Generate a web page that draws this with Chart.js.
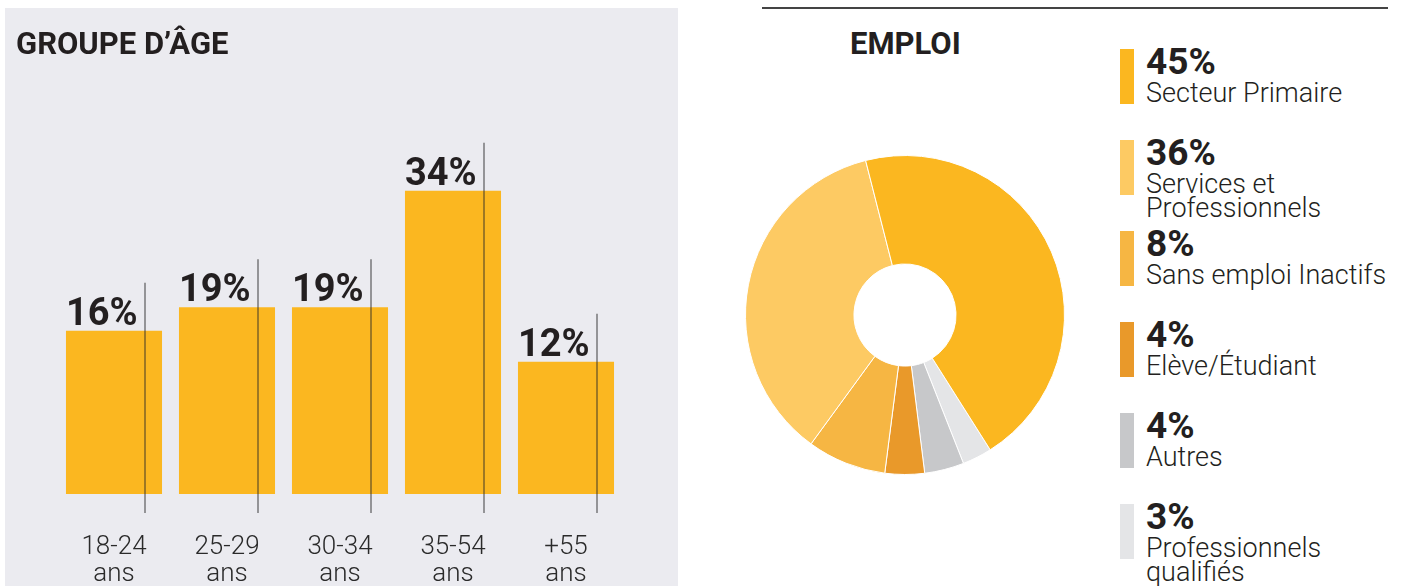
<!DOCTYPE html>
<html>
<head>
<meta charset="utf-8">
<script src="https://cdn.jsdelivr.net/npm/chart.js@4.4.1/dist/chart.umd.min.js"></script>
<style>
body { margin:0; background:#fff; width:1402px; height:586px; position:relative; overflow:hidden; font-family: Roboto, sans-serif; color:#231f20; }
.panel { position:absolute; left:5px; top:8px; width:673px; height:578px; background:#ebebf0; }
.title { position:absolute; font-weight:bold; font-size:31px; line-height:31px; }
.rule { position:absolute; left:762px; top:7px; width:626px; height:2px; background:#444; }
.box { position:absolute; }
.entry { position:absolute; left:1120px; }
.swatch { position:absolute; left:0; top:0; width:14px; height:55px; }
.pct { position:absolute; left:26px; top:-4px; font-weight:bold; font-size:37px; line-height:34px; white-space:nowrap; }
.lbl { position:absolute; left:26px; top:32px; font-weight:300; font-size:27px; line-height:24px; white-space:nowrap; }
</style>
</head>
<body>
<div class="panel">
  <div class="box" style="left:0;top:0;width:673px;height:621px;"><canvas id="age-chart"></canvas></div>
</div>
<div class="title" style="left:16px;top:28px;">GROUPE D’ÂGE</div>
<div class="rule"></div>
<div class="title" style="left:850px;top:28px;">EMPLOI</div>
<div class="box" style="left:740px;top:150px;width:330px;height:330px;"><canvas id="job-chart"></canvas></div>
<div id="legend"></div>
<script>
// age groups
const ageLabels = [['18-24', 'ans'], ['25-29', 'ans'], ['30-34', 'ans'], ['35-54', 'ans'], ['+55', 'ans']];
const ageValues = [16, 19, 19, 34, 12];
const axisMin = -5;
const axisMax = 40;

// employment (legend order)
const jobLabels = [['Secteur Primaire'], ['Services et', 'Professionnels'], ['Sans emploi Inactifs'], ['Elève/Étudiant'], ['Autres'], ['Professionnels', 'qualifiés']];
const jobValues = [45, 36, 8, 4, 4, 3];
const jobColors = ['#fbb720', '#fdca63', '#f6b643', '#e9992a', '#c7c8ca', '#e4e5e7'];

// thin marker line + value label for each bar
const barMarks = {
    id: 'barMarks',
    afterDatasetsDraw(chart) {
        const ctx = chart.ctx;
        const meta = chart.getDatasetMeta(0);
        const yBase = chart.scales.y.getPixelForValue(axisMin);
        ctx.save();
        meta.data.forEach((bar, i) => {
            ctx.strokeStyle = 'rgba(40,40,40,0.6)';
            ctx.lineWidth = 1.5;
            ctx.beginPath();
            ctx.moveTo(bar.x + 31, bar.y - 48);
            ctx.lineTo(bar.x + 31, yBase + 19);
            ctx.stroke();
            ctx.fillStyle = '#231f20';
            ctx.font = 'bold 38px Roboto';
            ctx.textAlign = 'left';
            ctx.textBaseline = 'alphabetic';
            ctx.fillText(ageValues[i] + '%', bar.x - bar.width / 2, bar.y - 6);
        });
        ctx.restore();
    }
};

const ageChart = new Chart(document.getElementById('age-chart').getContext('2d'), {
    type: 'bar',
    data: {
        labels: ageLabels,
        datasets: [{
            data: ageValues,
            base: axisMin,
            backgroundColor: '#fbb720',
            borderWidth: 0,
            barPercentage: 0.85,
            categoryPercentage: 1
        }]
    },
    options: {
        responsive: true,
        maintainAspectRatio: false,
        animation: false,
        layout: { padding: { left: 52.5, right: 55.5, top: 136, bottom: 1 } },
        plugins: { legend: { display: false }, tooltip: { enabled: false } },
        scales: {
            x: {
                grid: { display: false, drawTicks: false },
                border: { display: false },
                ticks: {
                    padding: 40,
                    color: '#2a2a2a',
                    font: { family: 'Roboto', size: 26, weight: 300, lineHeight: 27 / 26 }
                }
            },
            y: { display: false, min: axisMin, max: axisMax }
        }
    },
    plugins: [barMarks]
});

// doughnut is drawn clockwise from the 3% slice, i.e. legend order reversed
const jobChart = new Chart(document.getElementById('job-chart').getContext('2d'), {
    type: 'doughnut',
    data: {
        labels: jobLabels.slice().reverse().map(l => l.join(' ')),
        datasets: [{
            data: jobValues.slice().reverse(),
            backgroundColor: jobColors.slice().reverse(),
            borderColor: '#ffffff',
            borderWidth: 1
        }]
    },
    options: {
        responsive: true,
        maintainAspectRatio: false,
        animation: false,
        rotation: 147.7,
        cutout: '32%',
        layout: { padding: 5 },
        plugins: { legend: { display: false }, tooltip: { enabled: false } }
    }
});

// legend
const legend = document.getElementById('legend');
jobLabels.forEach((lines, i) => {
    const entry = document.createElement('div');
    entry.className = 'entry';
    entry.style.top = (49 + 91 * i) + 'px';
    entry.innerHTML = '<div class="swatch" style="background:' + jobColors[i] + '"></div>' +
        '<div class="pct">' + jobValues[i] + '%</div>' +
        '<div class="lbl">' + lines.join('<br>') + '</div>';
    legend.appendChild(entry);
});
</script>
</body>
</html>
